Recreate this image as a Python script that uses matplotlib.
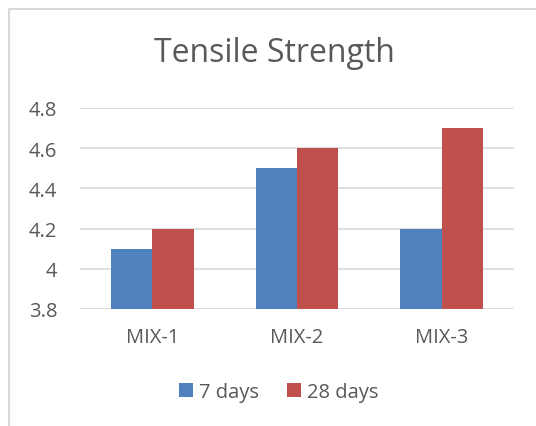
import numpy as np
import matplotlib.pyplot as plt
from matplotlib.patches import Rectangle

plt.rcParams['font.family'] = ['Open Sans', 'DejaVu Sans']

# Data
mixes = ["MIX-1", "MIX-2", "MIX-3"]
days_7 = [4.1, 4.5, 4.2]
days_28 = [4.2, 4.6, 4.7]
yticks = [3.8, 4.0, 4.2, 4.4, 4.6, 4.8]
ytick_labels = ["3.8", "4", "4.2", "4.4", "4.6", "4.8"]

BLUE = "#4F81BD"
RED = "#C0504D"
TEXT = "#595959"
GRID = "#D9D9D9"

W, H = 536, 427
fig = plt.figure(figsize=(W / 100, H / 100), dpi=100)

# chart frame (runs off the right/bottom edge)
fig.patches.append(Rectangle((9 / W, -0.1), 1.2, 1 - 10 / H + 0.1,
                             transform=fig.transFigure, fill=False,
                             edgecolor=GRID, linewidth=1.5))

ax = fig.add_axes([80 / W, 1 - 310 / H, (514 - 80) / W, (310 - 109) / H])

x = np.arange(len(mixes))
bw = 0.285
ax.bar(x - bw / 2, days_7, bw, color=BLUE, label="7 days", zorder=3)
ax.bar(x + bw / 2, days_28, bw, color=RED, label="28 days", zorder=3)

ax.set_xlim(-0.5, 2.5)
ax.set_ylim(3.8, 4.8)
ax.set_yticks(yticks)
ax.set_yticklabels(ytick_labels)
ax.set_xticks(x)
ax.set_xticklabels(mixes)
ax.tick_params(length=0, labelsize=14.5, labelcolor=TEXT)
ax.tick_params(axis='y', pad=16.5)
ax.tick_params(axis='x', pad=13)
ax.grid(axis='y', color=GRID, linewidth=1.2, zorder=0)
for s in ax.spines.values():
    s.set_visible(False)

fig.text(274 / W, 1 - 54 / H, "Tensile Strength", ha='center', va='center',
         fontsize=23, color=TEXT)

fig.legend(loc='center', bbox_to_anchor=(279 / W, 1 - 393 / H), ncol=2,
           frameon=False, fontsize=14.5, labelcolor=TEXT, handlelength=0.7,
           handleheight=0.7, handletextpad=0.3, columnspacing=1.4)

fig.savefig("out.png", dpi=100)
